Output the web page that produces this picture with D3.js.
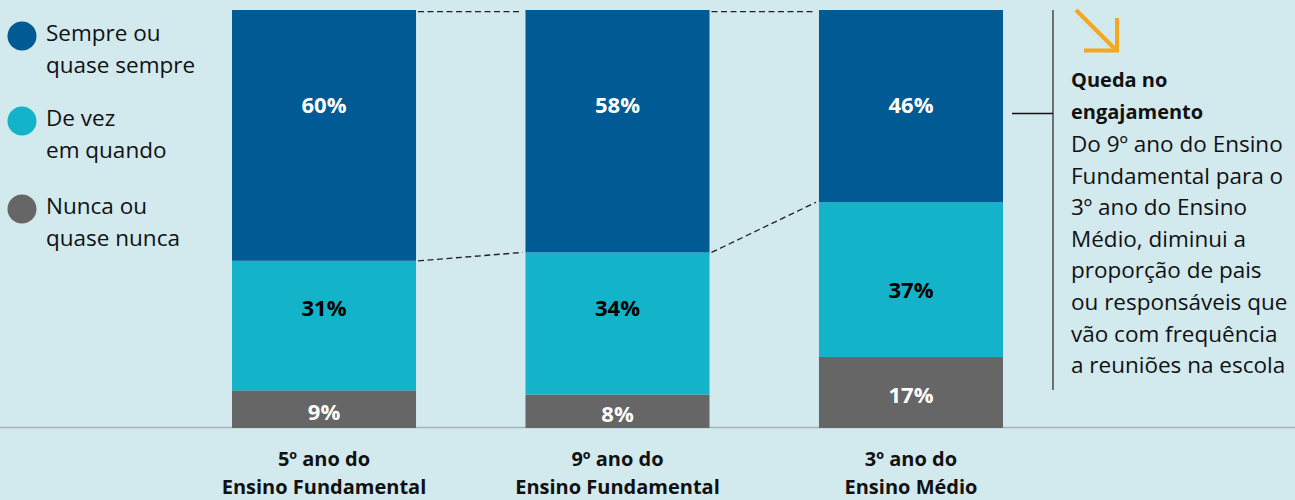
<!DOCTYPE html>
<html><head><meta charset="utf-8">
<script src="https://cdn.jsdelivr.net/npm/d3@7"></script>
<style>
html,body{margin:0;padding:0;background:#d2e9ee;}
svg{display:block;font-family:"Open Sans",sans-serif;}
</style></head>
<body><svg id="c" width="1295" height="500"></svg>
<script>
const categories = [["5º ano do","Ensino Fundamental"],["9º ano do","Ensino Fundamental"],["3º ano do","Ensino Médio"]];
const seriesNames = [["Sempre ou","quase sempre"],["De vez","em quando"],["Nunca ou","quase nunca"]];
const sempre = [60, 58, 46];
const deVez = [31, 34, 37];
const nunca = [9, 8, 17];
const colors = ["#005a93", "#13b3c9", "#666666"];
const labelColors = ["#ffffff", "#000000", "#ffffff"];
const noteTitle = ["Queda no", "engajamento"];
const noteBody = ["Do 9º ano do Ensino","Fundamental para o","3º ano do Ensino","Médio, diminui a","proporção de pais","ou responsáveis que","vão com frequência","a reuniões na escola"];

const svg = d3.select("#c");
const W = 1295, H = 500;
const x = d3.scaleBand().domain(d3.range(categories.length)).range([232, 1003]).paddingInner(0.373).paddingOuter(0);
const y = d3.scaleLinear().domain([0, 100]).range([428, 10]);

const rows = categories.map((c, i) => ({i, nunca: nunca[i], deVez: deVez[i], sempre: sempre[i]}));
const stack = d3.stack().keys(["nunca", "deVez", "sempre"])(rows);
const keyColor = {nunca: colors[2], deVez: colors[1], sempre: colors[0]};
const keyLabel = {nunca: labelColors[2], deVez: labelColors[1], sempre: labelColors[0]};

svg.append("line").attr("x1", 0).attr("x2", W).attr("y1", y(0) - 0.5).attr("y2", y(0) - 0.5)
  .attr("stroke", "#a9b4b7").attr("stroke-width", 1.5);

stack.forEach(layer => {
  svg.append("g").selectAll("rect").data(layer).join("rect")
    .attr("x", d => x(d.data.i)).attr("width", x.bandwidth())
    .attr("y", d => y(d[1])).attr("height", d => y(d[0]) - y(d[1]))
    .attr("fill", keyColor[layer.key]);
});

const conn = svg.append("g").attr("stroke", "#222").attr("stroke-width", 1.3).attr("stroke-dasharray", "6,3.5").attr("fill", "none");
for (let i = 0; i < categories.length - 1; i++) {
  const xa = x(i) + x.bandwidth() + 2, xb = x(i + 1) - 3;
  conn.append("line").attr("x1", xa).attr("x2", xb).attr("y1", y(100) + 1.7).attr("y2", y(100) + 1.7);
  const ya = y(nunca[i] + deVez[i]), yb = y(nunca[i + 1] + deVez[i + 1]);
  conn.append("line").attr("x1", xa).attr("x2", xb).attr("y1", ya).attr("y2", yb);
}

stack.forEach(layer => {
  svg.append("g").selectAll("text").data(layer).join("text")
    .attr("x", d => x(d.data.i) + x.bandwidth() / 2)
    .attr("y", d => {
      const mid = (y(d[0]) + y(d[1])) / 2;
      if (layer.key === "sempre") return y(100) + 95;
      if (layer.key === "deVez") return Math.max(290, Math.min(308, mid));
      return mid + 3;
    })
    .attr("dy", "0.36em")
    .attr("text-anchor", "middle").attr("font-weight", 700).attr("font-size", 22)
    .attr("fill", keyLabel[layer.key])
    .text(d => (d[1] - d[0]) + "%");
});

const cat = svg.append("g").attr("font-weight", 700).attr("font-size", 20).attr("fill", "#111").attr("text-anchor", "middle");
categories.forEach((c, i) => {
  c.forEach((line, j) => {
    cat.append("text").attr("x", x(i) + x.bandwidth() / 2).attr("y", 466 + j * 27.5).text(line);
  });
});

const leg = svg.append("g");
const legY = [36, 121, 209];
seriesNames.forEach((s, i) => {
  leg.append("circle").attr("cx", 22).attr("cy", legY[i]).attr("r", 14.5).attr("fill", colors[i]);
  s.forEach((line, j) => {
    leg.append("text").attr("x", 46).attr("y", legY[i] + 5 + j * 32).attr("font-size", 22.5).attr("fill", "#111").text(line);
  });
});

const ann = svg.append("g");
ann.append("line").attr("x1", 1053).attr("x2", 1053).attr("y1", 10).attr("y2", 390).attr("stroke", "#333").attr("stroke-width", 1.3);
ann.append("line").attr("x1", 1012).attr("x2", 1053).attr("y1", 113.5).attr("y2", 113.5).attr("stroke", "#111").attr("stroke-width", 1.3);
const arrow = ann.append("g").attr("stroke", "#f4a81d").attr("stroke-width", 4).attr("fill", "none").attr("stroke-linecap", "butt");
arrow.append("line").attr("x1", 1076).attr("y1", 10).attr("x2", 1116).attr("y2", 50);
arrow.append("polyline").attr("points", "1084,50.5 1117,50.5 1117,18");
noteTitle.forEach((t, j) => {
  ann.append("text").attr("x", 1071).attr("y", 87 + j * 31.5).attr("font-weight", 700).attr("font-size", 20).attr("fill", "#111").text(t);
});
noteBody.forEach((t, j) => {
  ann.append("text").attr("x", 1071).attr("y", 152 + j * 31.6).attr("font-size", 22.5).attr("fill", "#111").text(t);
});
</script></body></html>
